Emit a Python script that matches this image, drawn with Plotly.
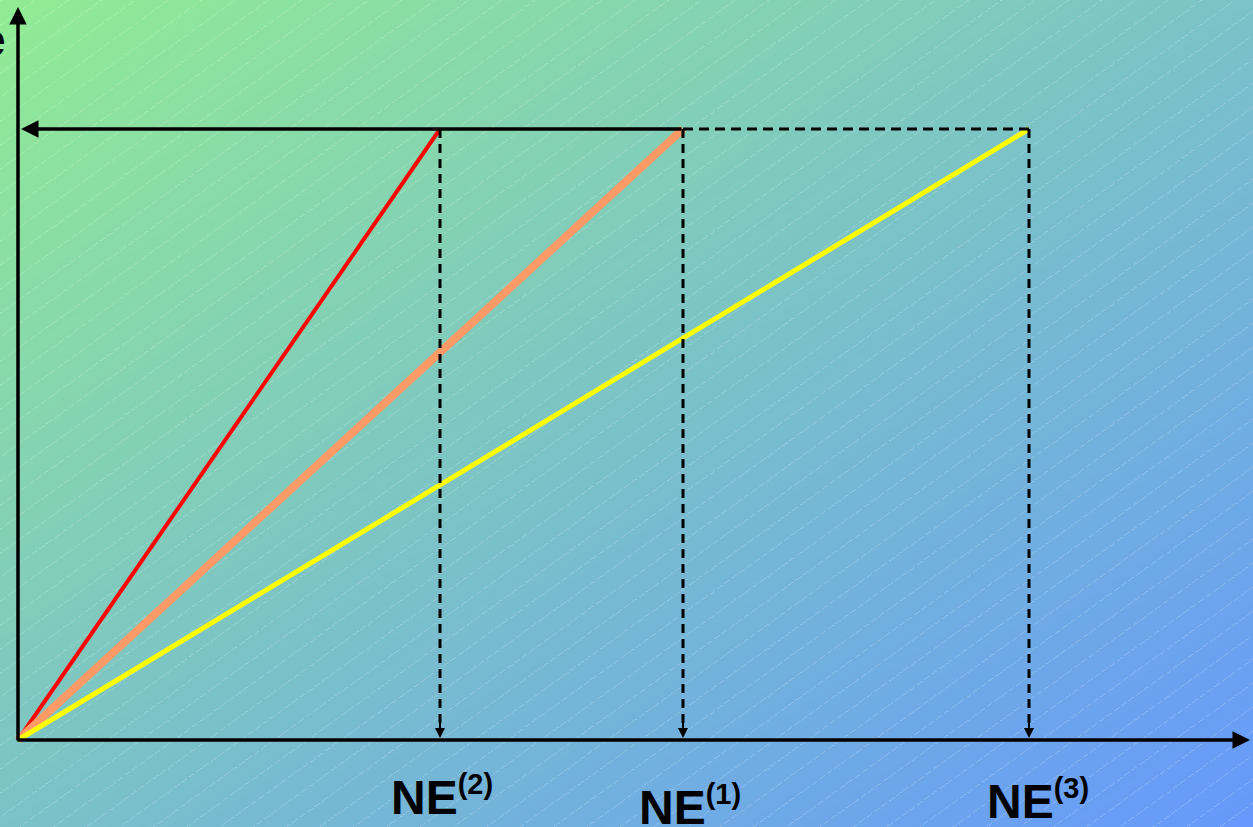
import base64, struct, zlib
import numpy as np
import plotly.graph_objects as go

# ---- data (units: 1 = 100 px in reference) ----
ne_names = ["NE", "NE", "NE"]
ne_sups = ["(2)", "(1)", "(3)"]
ne_values = [4.22, 6.65, 10.11]       # x positions of NE(2), NE(1), NE(3)
line_colors = ["#ff0000", "#ff9966", "#ffff00"]
line_widths = [4, 8, 5]
top_level = 6.11                        # common y level
label_shift = [-56, -66, -60]
label_xshift = [2, 7, 9]
x_axis_end = 12.32
y_axis_end = 7.33

W, H = 1253, 827

# ---- background gradient image ----
yy, xx = np.mgrid[0:H, 0:W].astype(float)
t = (xx / W + yy / H) / 2.0
c0 = np.array([146, 236, 148], float)
c1 = np.array([102, 153, 252], float)
img = c0[None, None, :] * (1 - t[..., None]) + c1[None, None, :] * t[..., None]
stripe = (((0.72 * xx + yy) % 24.0) < 1.0) & (((xx - yy * 0.3) % 9.0) < 7.0)
img[stripe] = img[stripe] * 0.8 + 255 * 0.2
img = np.clip(img, 0, 255).astype(np.uint8)

def png_bytes(a):
    h, w, _ = a.shape
    raw = b"".join(b"\x00" + a[r].tobytes() for r in range(h))
    def chunk(tag, data):
        c = struct.pack(">I", len(data)) + tag + data
        return c + struct.pack(">I", zlib.crc32(tag + data) & 0xffffffff)
    return (b"\x89PNG\r\n\x1a\n" + chunk(b"IHDR", struct.pack(">IIBBBBB", w, h, 8, 2, 0, 0, 0))
            + chunk(b"IDAT", zlib.compress(raw, 9)) + chunk(b"IEND", b""))

bg_uri = "data:image/png;base64," + base64.b64encode(png_bytes(img)).decode()

fig = go.Figure()

# sloped lines from origin
for xv, col, lw in zip(ne_values, line_colors, line_widths):
    fig.add_trace(go.Scatter(x=[0, xv], y=[0, top_level], mode="lines",
                             line=dict(color=col, width=lw), hoverinfo="skip"))

# dashed top segment from NE(1) to NE(3)
fig.add_trace(go.Scatter(x=[ne_values[1], ne_values[2]], y=[top_level, top_level], mode="lines",
                         line=dict(color="black", width=3, dash="10px,6px"), hoverinfo="skip"))

annotations = []
# axes arrows
annotations.append(dict(x=x_axis_end, y=0, ax=-0.02, ay=0, xref="x", yref="y", axref="x", ayref="y",
                        showarrow=True, arrowhead=2, arrowsize=1, arrowwidth=3.5, arrowcolor="black", text=""))
annotations.append(dict(x=0, y=y_axis_end, ax=0, ay=-0.02, xref="x", yref="y", axref="x", ayref="y",
                        showarrow=True, arrowhead=2, arrowsize=1, arrowwidth=3.5, arrowcolor="black", text=""))
# top solid arrow pointing left
annotations.append(dict(x=0.03, y=top_level, ax=ne_values[1], ay=top_level, xref="x", yref="y",
                        axref="x", ayref="y", showarrow=True, arrowhead=2, arrowsize=1,
                        arrowwidth=3.5, arrowcolor="black", text=""))
# vertical dashed lines with arrowheads
for xv, nm, sp, sh, xs in zip(ne_values, ne_names, ne_sups, label_shift, label_xshift):
    fig.add_trace(go.Scatter(x=[xv, xv], y=[top_level, 0.08], mode="lines",
                             line=dict(color="black", width=3, dash="9px,6px"), hoverinfo="skip"))
    annotations.append(dict(x=xv, y=0.02, ax=xv, ay=0.2, xref="x", yref="y", axref="x", ayref="y",
                            showarrow=True, arrowhead=2, arrowsize=1, arrowwidth=2, arrowcolor="black", text=""))
    annotations.append(dict(x=xv, y=0, xref="x", yref="y", showarrow=False,
                            text="<b>" + nm + "<sup><span style='font-size:29px'>" + sp + "</span></sup></b>",
                            yshift=sh, xshift=xs,
                            font=dict(family="Liberation Sans, Arial", size=48, color="black")))

annotations.append(dict(x=0.0, y=0.985, xref="paper", yref="paper", xanchor="right", yanchor="top",
                        showarrow=False, text="<b>e</b>", xshift=8,
                        font=dict(family="Liberation Sans, Arial", size=46, color="black")))

fig.update_layout(
    width=W, height=H, margin=dict(l=0, r=0, t=0, b=0),
    paper_bgcolor="rgba(0,0,0,0)", plot_bgcolor="rgba(0,0,0,0)",
    showlegend=False, annotations=annotations,
    images=[dict(source=bg_uri, xref="paper", yref="paper", x=0, y=1, sizex=1, sizey=1,
                 xanchor="left", yanchor="top", sizing="stretch", layer="below")],
    xaxis=dict(range=[-0.18, 12.35], visible=False, fixedrange=True),
    yaxis=dict(range=[-0.87, 7.40], visible=False, fixedrange=True),
)

fig.write_html("out.html", config={"displayModeBar": False},
               post_script="document.body.style.margin='0';document.body.style.overflow='hidden';")
